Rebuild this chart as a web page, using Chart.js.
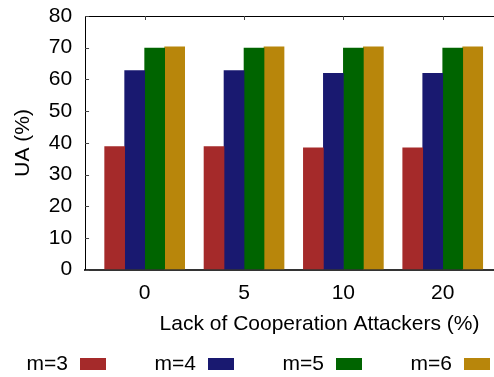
<!DOCTYPE html>
<html><head><meta charset="utf-8">
<script src="https://cdn.jsdelivr.net/npm/chart.js@4"></script>
<style>html,body{margin:0;padding:0;overflow:hidden;background:#fff}canvas{display:block}</style>
</head><body>
<canvas id="c" width="554" height="377"></canvas>
<script>
// ---- data ----
const categories = ['0', '5', '10', '20'];
const seriesNames = ['m=3', 'm=4', 'm=5', 'm=6'];
const m3 = [38.8, 38.8, 38.4, 38.4];
const m4 = [62.8, 62.8, 61.9, 61.9];
const m5 = [69.9, 69.9, 69.9, 69.9];
const m6 = [70.3, 70.3, 70.3, 70.3];
const yTicks = [0, 10, 20, 30, 40, 50, 60, 70, 80];

// ---- styles ----
const colors = ['#a52a2a', '#191970', '#006400', '#b8860b'];
const FONT = '"Liberation Sans", Arial, Helvetica, sans-serif';
const FS = 21;
Chart.defaults.font.family = FONT;
Chart.defaults.font.size = FS;
Chart.defaults.color = '#000';

const series = [m3, m4, m5, m6];
const datasets = series.map((vals, k) => ({
  label: seriesNames[k],
  data: vals.map((v, i) => ({x: i, y: v})),
  backgroundColor: colors[k],
  borderWidth: 0,
  barThickness: 20
}));

const LEG = {x0: 80, pitch: 128, y: 364, w: 26, h: 12, gap: 12};

const framePlugin = {
  id: 'frame',
  afterDatasetsDraw(chart) {
    const {ctx, chartArea: a, scales: {x, y}} = chart;
    ctx.save();
    ctx.strokeStyle = '#000';
    ctx.lineWidth = 1;
    ctx.beginPath();
    ctx.moveTo(a.left, Math.round(a.top) + 0.5);
    ctx.lineTo(a.right, Math.round(a.top) + 0.5);
    ctx.stroke();
    ctx.strokeStyle = '#444';
    ctx.beginPath();
    y.ticks.forEach(t => {
      const py = Math.round(y.getPixelForValue(t.value)) + 0.5;
      ctx.moveTo(a.left, py); ctx.lineTo(a.left + 4, py);
    });
    x.ticks.forEach(t => {
      const px = Math.round(x.getPixelForValue(t.value)) + 0.5;
      ctx.moveTo(px, a.top); ctx.lineTo(px, a.top + 4);
    });
    ctx.stroke();
    ctx.restore();
  },
  afterDraw(chart) {
    const ctx = chart.ctx;
    ctx.save();
    ctx.font = FS + 'px ' + FONT;
    ctx.textBaseline = 'middle';
    ctx.textAlign = 'right';
    chart.data.datasets.forEach((ds, i) => {
      const bx = LEG.x0 + i * LEG.pitch;
      ctx.fillStyle = ds.backgroundColor;
      ctx.fillRect(bx, LEG.y - LEG.h / 2, LEG.w, LEG.h);
      ctx.fillStyle = '#000';
      ctx.fillText(ds.label, bx - LEG.gap, LEG.y);
    });
    ctx.restore();
  }
};

new Chart(document.getElementById('c'), {
  type: 'bar',
  data: {datasets},
  plugins: [framePlugin],
  options: {
    responsive: false,
    animation: false,
    events: [],
    layout: {padding: {top: 16, left: 0, right: 0, bottom: 40}},
    plugins: {legend: {display: false}, tooltip: {enabled: false}},
    scales: {
      x: {
        type: 'linear',
        min: -0.6,
        max: 4.12,
        offset: false,
        z: 1,
        afterBuildTicks: s => { s.ticks = categories.map((_, i) => ({value: i})); },
        grid: {display: true, drawOnChartArea: false, drawTicks: true, tickLength: 11, color: 'rgba(0,0,0,0)', tickColor: 'rgba(0,0,0,0)'},
        border: {display: true, color: '#333', width: 2},
        ticks: {autoSkip: false, maxRotation: 0, padding: 0, callback: v => categories[v] ?? ''},
        title: {display: true, text: 'Lack of Cooperation Attackers (%)', padding: {top: 6, bottom: 0}}
      },
      y: {
        min: 0,
        max: 80,
        afterBuildTicks: s => { s.ticks = yTicks.map(v => ({value: v})); },
        grid: {display: true, drawOnChartArea: false, drawTicks: true, tickLength: 13, color: 'rgba(0,0,0,0)', tickColor: 'rgba(0,0,0,0)'},
        border: {display: true, color: '#000', width: 1},
        ticks: {padding: 0},
        title: {display: true, text: 'UA (%)', padding: {top: 11, bottom: 12.5}}
      }
    }
  }
});
</script>
</body></html>
